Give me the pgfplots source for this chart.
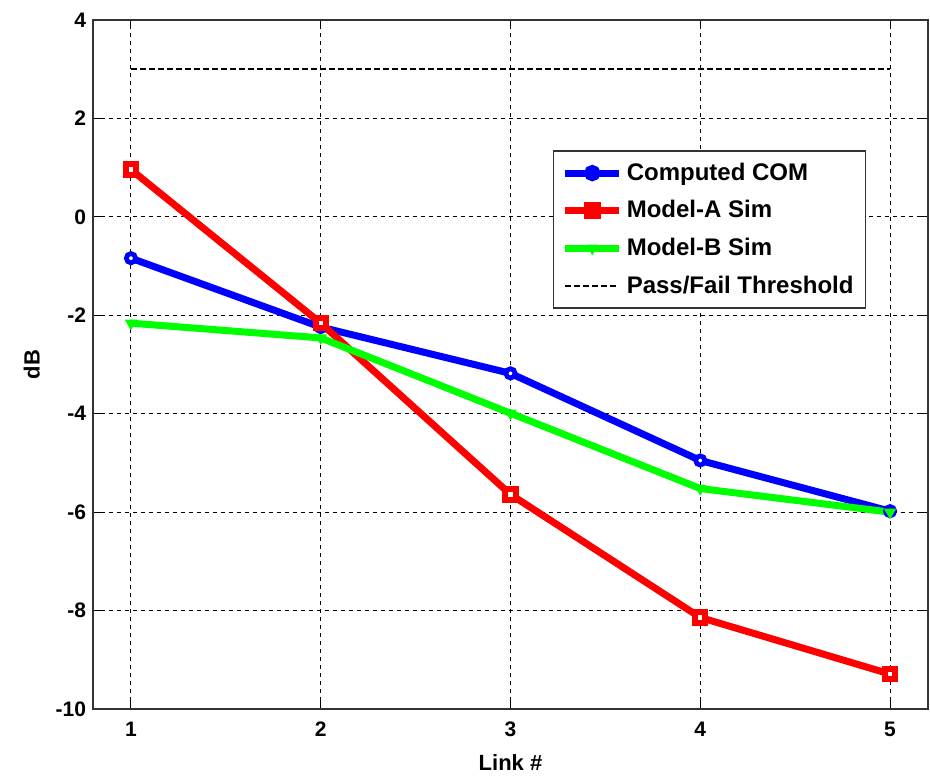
\documentclass[border=0pt]{standalone}
\usepackage{pgfplots}
\pgfplotsset{compat=1.18}
\usepackage{fontspec}
\setmainfont{Liberation Sans}
\begin{document}
\begin{tikzpicture}[x=1pt,y=1pt]
\begin{axis}[
  name=ax,
  at={(0,0)}, anchor=south west,
  scale only axis,
  width=417.5pt, height=344.5pt,
  xmin=0.8, xmax=5.2, ymin=-10, ymax=4,
  xtick={1,2,3,4,5}, ytick={-10,-8,-6,-4,-2,0,2,4},
  /pgf/number format/assume math mode=true,
  tick label style={font=\bfseries\fontsize{10.5}{12}\selectfont},
  xticklabel style={yshift=-3pt},
  label style={font=\bfseries\fontsize{11}{12}\selectfont},
  xlabel={Link \#}, ylabel={dB},
  xlabel style={yshift=-2pt},
  ylabel style={yshift=1pt},
  grid=major,
  grid style={black, dash pattern=on 2pt off 2pt, line width=0.5pt},
  tick align=inside, tick pos=both,
  major tick length=4pt,
  tick style={black, line width=0.5pt},
  axis line style={line width=0.8pt, black!80},
  legend style={
    at={(0.551,0.811)}, anchor=north west,
    font=\bfseries\fontsize{12}{14}\selectfont,
    draw=black!80, line width=0.7pt,
    row sep=4.6pt, inner xsep=4pt, inner ysep=4pt,
    /tikz/every even column/.append style={column sep=3pt},
  },
  legend cell align=left,
  legend image code/.code={\draw[mark repeat=2,mark phase=2,#1] plot coordinates {(0pt,0pt) (13.5pt,0pt) (27pt,0pt)};},
]
\addplot[blue, line width=3.5pt, mark=*, mark size=2.3pt, mark options={fill=white, line width=2.4pt},
  legend image post style={mark options={fill=blue}}]
  coordinates {(1,-0.84) (2,-2.24) (3,-3.18) (4,-4.95) (5,-5.98)};
\addlegendentry{Computed COM}
\addplot[red, line width=3.5pt, mark=square*, mark size=2.6pt, mark options={fill=white, line width=3pt},
  legend image post style={mark options={fill=red}}]
  coordinates {(1,0.96) (2,-2.16) (3,-5.64) (4,-8.14) (5,-9.29)};
\addlegendentry{Model-A Sim}
\addplot[green, line width=3.5pt, mark=triangle*, mark size=2.6pt, mark options={rotate=180, fill=green, line width=1pt}]
  coordinates {(1,-2.16) (2,-2.46) (3,-3.99) (4,-5.52) (5,-6.0)};
\addlegendentry{Model-B Sim}
\addplot[black, line width=1pt, dash pattern=on 3pt off 1.5pt]
  coordinates {(1,3) (5,3)};
\addlegendentry{Pass/Fail Threshold}
\end{axis}
\path[use as bounding box] (-46.5pt,-33.5pt) rectangle (418.5pt,354.5pt);
\end{tikzpicture}
\end{document}
